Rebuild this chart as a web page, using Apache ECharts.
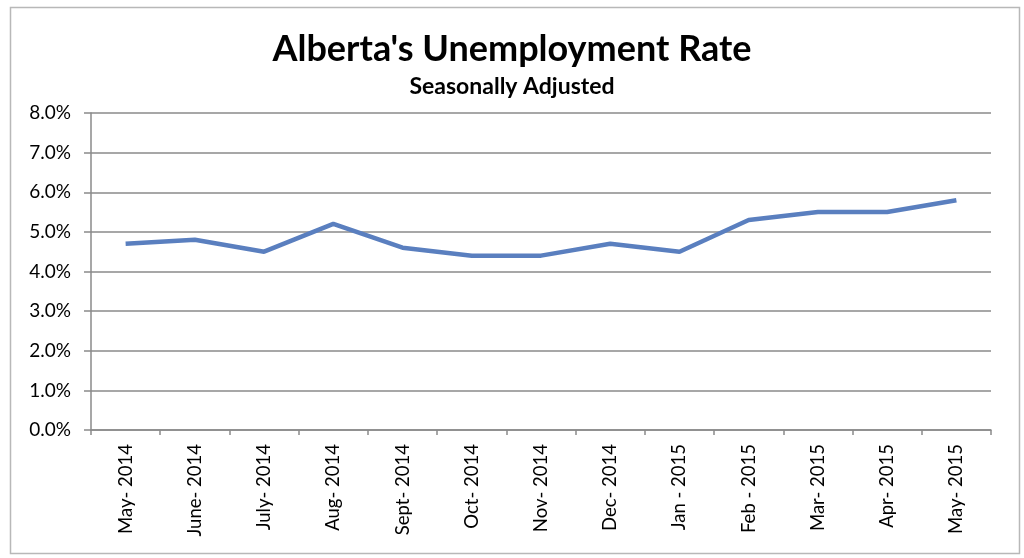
<!DOCTYPE html>
<html>
<head>
<meta charset="utf-8">
<script src="https://cdn.jsdelivr.net/npm/echarts@6/dist/echarts.min.js"></script>
<style>
html,body{margin:0;padding:0;background:#fff;}
#chart{width:1024px;height:558px;}
</style>
</head>
<body>
<div id="chart"></div>
<script>
const categories = ['May- 2014','June- 2014','July- 2014','Aug- 2014','Sept- 2014','Oct- 2014','Nov- 2014','Dec- 2014','Jan - 2015','Feb - 2015','Mar- 2015','Apr- 2015','May- 2015'];
const unemploymentRate = [4.7, 4.8, 4.5, 5.2, 4.6, 4.4, 4.4, 4.7, 4.5, 5.3, 5.5, 5.5, 5.8];
const yMin = 0, yMax = 8, yInterval = 1;

const FONT = 'Lato, "Open Sans", sans-serif';
const chart = echarts.init(document.getElementById('chart'));
chart.setOption({
  animation: false,
  backgroundColor: '#fff',
  graphic: [{
    type: 'rect', left: 8, top: 5,
    shape: { width: 1009, height: 546 },
    style: { fill: 'none', stroke: '#b8b8b8', lineWidth: 1.5 },
    z: -1
  }],
  title: [{
    text: "Alberta's Unemployment Rate",
    left: 'center', top: 26,
    textStyle: { fontFamily: FONT, fontWeight: 'bold', fontSize: 36, color: '#000' }
  }, {
    text: 'Seasonally Adjusted',
    left: 'center', top: 70,
    textStyle: { fontFamily: FONT, fontWeight: 'bold', fontSize: 23, color: '#000' }
  }],
  grid: { left: 91, right: 33, top: 113, bottom: 128, containLabel: false },
  xAxis: {
    type: 'category',
    data: categories,
    boundaryGap: true,
    axisLine: { lineStyle: { color: '#8a8a8a', width: 1.5 } },
    axisTick: { show: true, length: 5, lineStyle: { color: '#8a8a8a', width: 1.5 } },
    axisLabel: { rotate: 90, margin: 14, fontFamily: FONT, fontSize: 18.5, color: '#000', interval: 0 }
  },
  yAxis: {
    type: 'value',
    min: yMin, max: yMax, interval: yInterval,
    axisLine: { show: true, lineStyle: { color: '#8a8a8a', width: 1.5 } },
    axisTick: { show: true, inside: false, length: 7, lineStyle: { color: '#8a8a8a', width: 1.5 } },
    splitLine: { show: true, lineStyle: { color: '#8a8a8a', width: 1.5 } },
    axisLabel: { margin: 20, fontFamily: FONT, fontSize: 19, color: '#000',
      formatter: v => v.toFixed(1) + '%' }
  },
  series: [{
    type: 'line',
    data: unemploymentRate,
    symbol: 'none',
    lineStyle: { color: '#5a7fbf', width: 4.5 },
    itemStyle: { color: '#5a7fbf' }
  }]
});
</script>
</body>
</html>
